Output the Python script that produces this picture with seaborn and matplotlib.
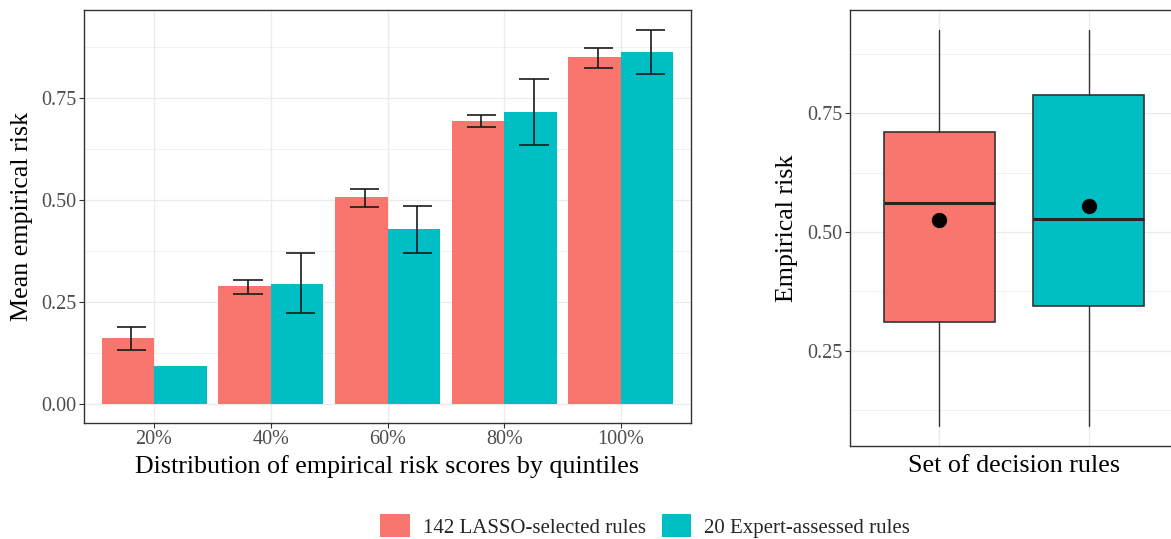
import matplotlib
matplotlib.use("Agg")
import matplotlib.pyplot as plt
import matplotlib.patches as mpatches
from matplotlib.ticker import FixedLocator
import numpy as np
import pandas as pd
import seaborn as sns

# ---------------- data ----------------
quintiles = ["20%", "40%", "60%", "80%", "100%"]
groups = ["142 LASSO-selected rules", "20 Expert-assessed rules"]
lasso_mean = [0.161, 0.289, 0.507, 0.693, 0.850]
lasso_lo = [0.133, 0.270, 0.482, 0.678, 0.825]
lasso_hi = [0.188, 0.305, 0.527, 0.708, 0.873]
expert_mean = [0.093, 0.295, 0.429, 0.717, 0.864]
expert_lo = [np.nan, 0.222, 0.369, 0.634, 0.809]
expert_hi = [np.nan, 0.369, 0.485, 0.798, 0.918]

# boxplot summary stats (whisker low, Q1, median, Q3, whisker high, mean)
box_whislo = [0.092, 0.092]
box_q1 = [0.311, 0.344]
box_med = [0.561, 0.527]
box_q3 = [0.711, 0.788]
box_whishi = [0.925, 0.925]
box_mean = [0.525, 0.554]

colors = ["#F8766D", "#00BFC4"]

# ---------------- style ----------------
sns.set_theme(style="white")
plt.rcParams["font.family"] = ["Liberation Serif", "DejaVu Serif"]

W, H = 1171, 539
fig = plt.figure(figsize=(W / 100, H / 100), dpi=100)

def frac_box(x0, y0, x1, y1):
    return [x0 / W, 1 - y1 / H, (x1 - x0) / W, (y1 - y0) / H]

ax1 = fig.add_axes(frac_box(84, 10, 691, 422.7))
ax2 = fig.add_axes(frac_box(850, 10, 1178, 446))

grid_c = "#EBEBEB"
spine_c = "#333333"
tick_c = "#4D4D4D"
TICK_FS = 14.5
TITLE_FS = 18.7

# ---------------- left: bar chart ----------------
df = pd.DataFrame({
    "quintile": quintiles * 2,
    "mean": lasso_mean + expert_mean,
    "group": [groups[0]] * 5 + [groups[1]] * 5,
})
sns.barplot(data=df, x="quintile", y="mean", hue="group", order=quintiles,
            hue_order=groups, palette=colors, errorbar=None, width=0.9,
            saturation=1, gap=0, legend=False, ax=ax1, zorder=2,
            linewidth=0)

los = [lasso_lo, expert_lo]
his = [lasso_hi, expert_hi]
for gi, cont in enumerate(ax1.containers):
    for bi, bar in enumerate(cont):
        lo, hi = los[gi][bi], his[gi][bi]
        if np.isnan(lo):
            continue
        xc = bar.get_x() + bar.get_width() / 2 + 0.03
        ax1.vlines(xc, lo, hi, color="#1a1a1a", lw=1.2, zorder=3)
        ax1.hlines([lo, hi], xc - 0.125, xc + 0.125, color="#1a1a1a", lw=1.2, zorder=3)

ax1.set_xlim(-0.6, 4.6)
ax1.set_ylim(-0.046, 0.966)
ax1.yaxis.set_major_locator(FixedLocator([0, 0.25, 0.5, 0.75]))
ax1.yaxis.set_minor_locator(FixedLocator([0.125, 0.375, 0.625, 0.875]))
ax1.set_yticklabels(["0.00", "0.25", "0.50", "0.75"])
ax1.grid(True, which="major", color=grid_c, lw=0.9, zorder=0)
ax1.grid(True, which="minor", axis="y", color=grid_c, lw=0.5, zorder=0)
ax1.set_axisbelow(True)
ax1.tick_params(axis="y", which="major", left=True, length=3.5, width=0.8,
                color=spine_c, labelsize=TICK_FS, labelcolor=tick_c, pad=2)
ax1.tick_params(axis="y", which="minor", left=False)
ax1.tick_params(axis="x", bottom=True, length=3.5, width=0.8, color=spine_c,
                labelsize=TICK_FS, labelcolor=tick_c, pad=1.5)
ax1.set_xlabel("Distribution of empirical risk scores by quintiles", fontsize=TITLE_FS, color="black")
ax1.set_ylabel("Mean empirical risk", fontsize=TITLE_FS, color="black")
ax1.xaxis.set_label_coords(0.5, (422.7 - 467) / 412.7)
ax1.xaxis.label.set_verticalalignment("center")
ax1.yaxis.set_label_coords((22 - 84) / 607, 0.5)
ax1.yaxis.label.set_verticalalignment("center")

# ---------------- right: boxplot ----------------
stats = []
for i in range(2):
    stats.append({"whislo": box_whislo[i], "q1": box_q1[i], "med": box_med[i],
                  "q3": box_q3[i], "whishi": box_whishi[i], "fliers": []})
bp = ax2.bxp(stats, positions=[0, 1], widths=0.75, patch_artist=True,
             showfliers=False, showcaps=False,
             boxprops=dict(edgecolor=spine_c, linewidth=1.2),
             whiskerprops=dict(color=spine_c, linewidth=1.0),
             medianprops=dict(color="#262626", linewidth=2.2),
             zorder=2)
for patch, c in zip(bp["boxes"], colors):
    patch.set_facecolor(c)
ax2.scatter([0, 1], box_mean, s=100, color="black", zorder=4)

ax2.set_xlim(-0.6, 1.6)
ax2.set_ylim(0.05, 0.967)
ax2.set_xticks([0, 1])
ax2.set_xticklabels([])
ax2.yaxis.set_major_locator(FixedLocator([0.25, 0.5, 0.75]))
ax2.yaxis.set_minor_locator(FixedLocator([0.125, 0.375, 0.625, 0.875]))
ax2.set_yticklabels(["0.25", "0.50", "0.75"])
ax2.grid(True, which="major", color=grid_c, lw=0.9, zorder=0)
ax2.grid(True, which="minor", axis="y", color=grid_c, lw=0.5, zorder=0)
ax2.set_axisbelow(True)
ax2.tick_params(axis="y", which="major", left=True, length=3.5, width=0.8,
                color=spine_c, labelsize=TICK_FS, labelcolor=tick_c, pad=2)
ax2.tick_params(axis="y", which="minor", left=False)
ax2.tick_params(axis="x", bottom=False)
ax2.set_xlabel("Set of decision rules", fontsize=TITLE_FS, color="black")
ax2.set_ylabel("Empirical risk", fontsize=TITLE_FS, color="black")
ax2.xaxis.set_label_coords(0.5, (446 - 466) / 436)
ax2.xaxis.label.set_verticalalignment("center")
ax2.yaxis.set_label_coords((787 - 850) / 328, 0.5)
ax2.yaxis.label.set_verticalalignment("center")

for ax in (ax1, ax2):
    for sp in ax.spines.values():
        sp.set_visible(True)
        sp.set_color(spine_c)
        sp.set_linewidth(1.0)

# ---------------- legend ----------------
handles = [mpatches.Patch(facecolor=c, edgecolor="none", label=g) for c, g in zip(colors, groups)]
fig.legend(handles=handles, loc="center", bbox_to_anchor=(645 / W, 1 - 526 / H),
           ncol=2, frameon=False, fontsize=15, handlelength=1.4, handleheight=1.3,
           handletextpad=0.62, columnspacing=0.77, borderaxespad=0)

fig.savefig("out.png", dpi=100)
